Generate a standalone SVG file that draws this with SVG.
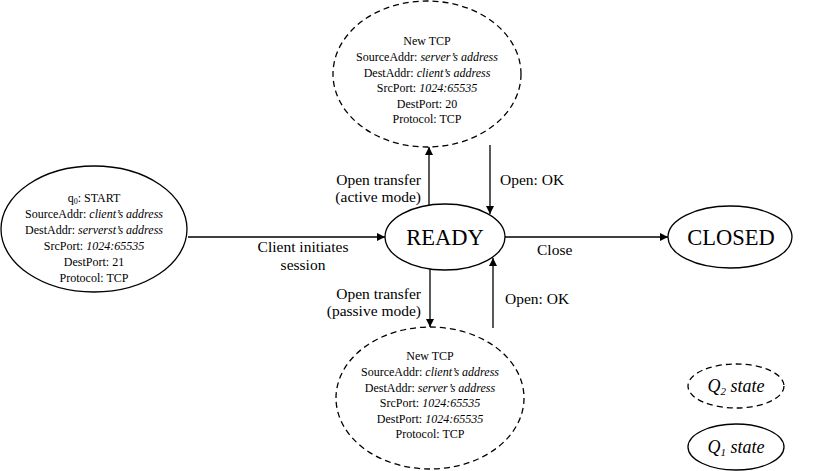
<svg xmlns="http://www.w3.org/2000/svg" width="813" height="471" viewBox="0 0 813 471">
<style>
.st{fill:#fff;stroke:#000;stroke-width:1.3}
.dash{fill:#fff;stroke:#000;stroke-width:1.3;stroke-dasharray:6,4}
.t{font-size:12px;text-anchor:middle}
.i{font-style:italic}
.lbl{font-size:15.5px}
.big{font-size:22.5px;text-anchor:middle}
.leg{font-size:18px;font-style:italic;text-anchor:middle}
.c{stroke:#000;stroke-width:1.3;fill:none;marker-end:url(#arr)}
</style>
<defs>
<marker id="arr" viewBox="0 0 10 10" refX="10" refY="5" markerWidth="9" markerHeight="8" markerUnits="userSpaceOnUse" orient="auto">
<path d="M0,0 L10,5 L0,10 z" fill="#000"/>
</marker>
</defs>
<g font-family="'Liberation Serif', 'Times New Roman', serif" fill="#000">
<g id="connectors">
<line class="c" x1="188" y1="237" x2="385" y2="237"/>
<line class="c" x1="505" y1="237" x2="668" y2="237"/>
<line class="c" x1="429" y1="205" x2="429" y2="147"/>
<line class="c" x1="490" y1="145" x2="490" y2="214"/>
<line class="c" x1="430" y1="269" x2="430" y2="327"/>
<line class="c" x1="493" y1="328" x2="493" y2="258"/>
<text class="lbl" x="303" y="252" text-anchor="middle">Client initiates</text>
<text class="lbl" x="303" y="270" text-anchor="middle">session</text>
<text class="lbl" x="537" y="255">Close</text>
<text class="lbl" x="421" y="185" text-anchor="end">Open transfer</text>
<text class="lbl" x="421" y="202" text-anchor="end">(active mode)</text>
<text class="lbl" x="500" y="185">Open: OK</text>
<text class="lbl" x="421" y="299" text-anchor="end">Open transfer</text>
<text class="lbl" x="421" y="316" text-anchor="end">(passive mode)</text>
<text class="lbl" x="505" y="304">Open: OK</text>
</g>
<g id="start">
<ellipse class="st" cx="94" cy="229" rx="93" ry="63"/>
<text class="t" x="94" y="202">q<tspan font-size="8" dy="2">0</tspan><tspan dy="-2">: START</tspan></text>
<text class="t" x="94" y="218">SourceAddr: <tspan class="i">client’s address</tspan></text>
<text class="t" x="94" y="234">DestAddr: <tspan class="i">serverst’s address</tspan></text>
<text class="t" x="94" y="250">SrcPort: <tspan class="i">1024:65535</tspan></text>
<text class="t" x="94" y="266">DestPort: 21</text>
<text class="t" x="94" y="282">Protocol: TCP</text>
</g>
<g id="ready">
<ellipse class="st" cx="445" cy="237" rx="60" ry="33"/>
<text class="big" x="445" y="245">READY</text>
</g>
<g id="closed">
<ellipse class="st" cx="730" cy="237" rx="62" ry="31"/>
<text class="big" x="731" y="245">CLOSED</text>
</g>
<g id="active">
<ellipse class="dash" cx="427" cy="74" rx="94" ry="73"/>
<text class="t" x="427" y="45">New TCP</text>
<text class="t" x="427" y="61">SourceAddr: <tspan class="i">server’s address</tspan></text>
<text class="t" x="427" y="77">DestAddr: <tspan class="i">client’s address</tspan></text>
<text class="t" x="427" y="92">SrcPort: <tspan class="i">1024:65535</tspan></text>
<text class="t" x="427" y="108">DestPort: 20</text>
<text class="t" x="427" y="123">Protocol: TCP</text>
</g>
<g id="passive">
<ellipse class="dash" cx="430" cy="398" rx="94" ry="71"/>
<text class="t" x="430" y="360">New TCP</text>
<text class="t" x="430" y="376">SourceAddr: <tspan class="i">client’s address</tspan></text>
<text class="t" x="430" y="392">DestAddr: <tspan class="i">server’s address</tspan></text>
<text class="t" x="430" y="407">SrcPort: <tspan class="i">1024:65535</tspan></text>
<text class="t" x="430" y="423">DestPort: <tspan class="i">1024:65535</tspan></text>
<text class="t" x="430" y="438">Protocol: TCP</text>
</g>
<g id="legend-q2">
<ellipse class="dash" cx="736" cy="386" rx="48" ry="22"/>
<text class="leg" x="736" y="392">Q<tspan font-size="11" dy="3">2</tspan><tspan dy="-3"> state</tspan></text>
</g>
<g id="legend-q1">
<ellipse class="st" cx="736" cy="447" rx="48" ry="23"/>
<text class="leg" x="736" y="453">Q<tspan font-size="11" dy="3">1</tspan><tspan dy="-3"> state</tspan></text>
</g>
</g>
</svg>
